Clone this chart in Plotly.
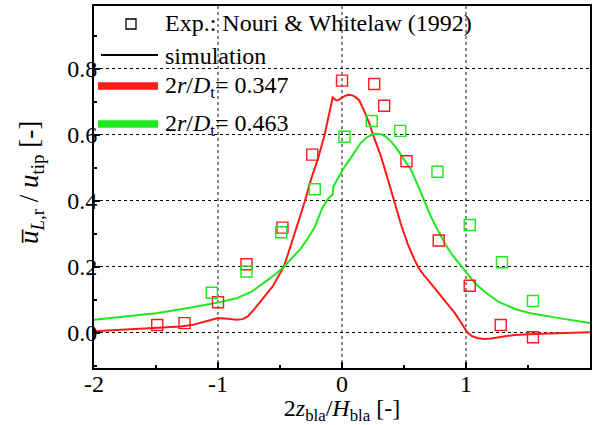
import plotly.graph_objects as go

# Experimental data (Nouri & Whitelaw 1992)
exp_red_x = [-1.49, -1.27, -1.00, -0.77, -0.48, -0.24, 0.00, 0.26, 0.34, 0.52, 0.78, 1.03, 1.28, 1.54]
exp_red_y = [0.024, 0.030, 0.093, 0.208, 0.319, 0.540, 0.764, 0.754, 0.688, 0.520, 0.280, 0.143, 0.024, -0.013]
exp_green_x = [-1.05, -0.77, -0.49, -0.22, 0.02, 0.24, 0.47, 0.77, 1.03, 1.29, 1.54]
exp_green_y = [0.122, 0.186, 0.305, 0.435, 0.594, 0.642, 0.612, 0.488, 0.327, 0.214, 0.097]

# Simulation curves
sim_red_x = [-2.0, -1.75, -1.5, -1.3, -1.2, -1.1, -1.0, -0.92, -0.85, -0.8, -0.76, -0.7, -0.65,
             -0.6, -0.56, -0.52, -0.47, -0.43, -0.385, -0.34, -0.30, -0.25, -0.196, -0.14, -0.11,
             -0.09, -0.075, -0.06, -0.045, -0.03, -0.01, 0.02, 0.05, 0.08, 0.11, 0.14, 0.18, 0.22,
             0.26, 0.315, 0.37, 0.42, 0.475, 0.53, 0.58, 0.62, 0.66, 0.7, 0.75, 0.8, 0.86, 0.91,
             0.96, 1.01, 1.05, 1.1, 1.15, 1.2, 1.28, 1.39, 1.6, 1.8, 2.0]
sim_red_y = [0.005, 0.010, 0.015, 0.020, 0.025, 0.036, 0.045, 0.043, 0.040, 0.042, 0.050, 0.075, 0.100,
             0.122, 0.140, 0.165, 0.200, 0.245, 0.297, 0.350, 0.398, 0.465, 0.524, 0.600, 0.650,
             0.690, 0.713, 0.708, 0.704, 0.705, 0.710, 0.717, 0.721, 0.720, 0.714, 0.704, 0.672, 0.635,
             0.590, 0.534, 0.465, 0.398, 0.330, 0.270, 0.225, 0.196, 0.175, 0.158, 0.135, 0.110, 0.082, 0.060,
             0.032, 0.002, -0.010, -0.016, -0.018, -0.017, -0.012, -0.006, -0.002, 0.000, 0.002]
sim_green_x = [-2.0, -1.75, -1.5, -1.25, -1.0, -0.85, -0.73, -0.6, -0.53, -0.47, -0.4, -0.33, -0.27,
               -0.22, -0.16, -0.115, -0.075, -0.07, -0.03, 0.005, 0.06, 0.1, 0.15, 0.2, 0.24, 0.27,
               0.315, 0.355, 0.395, 0.435, 0.476, 0.516, 0.556, 0.597, 0.637, 0.678, 0.718, 0.76,
               0.80, 0.84, 0.88, 0.93, 0.973, 1.02, 1.07, 1.15, 1.26, 1.4, 1.52, 1.75, 2.0]
sim_green_y = [0.040, 0.050, 0.060, 0.075, 0.092, 0.105, 0.125, 0.160, 0.180, 0.200, 0.228, 0.257, 0.290,
               0.320, 0.378, 0.405, 0.420, 0.443, 0.470, 0.494, 0.524, 0.548, 0.575, 0.592, 0.600, 0.603,
               0.602, 0.594, 0.580, 0.562, 0.539, 0.517, 0.494, 0.460, 0.423, 0.387, 0.352, 0.320,
               0.292, 0.265, 0.241, 0.218, 0.200, 0.175, 0.152, 0.125, 0.095, 0.072, 0.060, 0.045, 0.030]

x_ticks = [-2, -1, 0, 1, 2]
x_ticklabels = ["-2", "-1", "0", "1", "2"]
y_ticks = [0.0, 0.2, 0.4, 0.6, 0.8]
y_ticklabels = ["0.0", "0.2", "0.4", "0.6", "0.8"]

legend_labels = ["Exp.: Nouri &amp; Whitelaw (1992)", "simulation",
                 "2<i>r</i>/<i>D</i><sub>t</sub>= 0.347", "2<i>r</i>/<i>D</i><sub>t</sub>= 0.463"]
y_title = "<i>u\u0305</i><sub><i>L</i>,r</sub> / <i>u</i><sub>tip</sub> [-]"
x_title = "2<i>z</i><sub>bla</sub>/<i>H</i><sub>bla</sub> [-]"

RED = "#ff1a1a"
GREEN = "#1ee81e"
FONT = "'Liberation Serif', 'Times New Roman', 'DejaVu Serif', serif"

W, H = 594, 425
ML, MR, MT, MB = 94, 4, 6, 57
PW, PH = W - ML - MR, H - MT - MB


def px(xp):
    return (xp - ML) / PW


def py(yp):
    return (H - MB - yp) / PH


fig = go.Figure()

fig.add_trace(go.Scatter(x=sim_red_x, y=sim_red_y, mode="lines", line=dict(color=RED, width=2),
                         showlegend=False))
fig.add_trace(go.Scatter(x=sim_green_x, y=sim_green_y, mode="lines", line=dict(color=GREEN, width=2),
                         showlegend=False))
fig.add_trace(go.Scatter(x=exp_red_x, y=exp_red_y, mode="markers",
                         marker=dict(symbol="square-open", size=11, color=RED, line=dict(width=1.4)),
                         showlegend=False))
fig.add_trace(go.Scatter(x=exp_green_x, y=exp_green_y, mode="markers",
                         marker=dict(symbol="square-open", size=11, color=GREEN, line=dict(width=1.4)),
                         showlegend=False))

# manual legend (white boxes hiding grid, symbols, labels)
boxes = [(97, 480, 8, 38), (97, 273, 40, 71), (97, 295, 72, 101), (97, 295, 110, 141)]
for x0, x1, y0, y1 in boxes:
    fig.add_shape(type="rect", xref="paper", yref="paper", x0=px(x0), x1=px(x1), y0=py(y1), y1=py(y0),
                  fillcolor="white", line=dict(width=0), layer="between")
fig.add_shape(type="rect", xref="paper", yref="paper", x0=px(126), x1=px(136), y0=py(29), y1=py(19),
              line=dict(color="black", width=1.3), fillcolor="rgba(0,0,0,0)", layer="above")
fig.add_shape(type="line", xref="paper", yref="paper", x0=px(101), x1=px(158), y0=py(55), y1=py(55),
              line=dict(color="black", width=2), layer="above")
fig.add_shape(type="line", xref="paper", yref="paper", x0=px(98), x1=px(158), y0=py(86), y1=py(86),
              line=dict(color=RED, width=7.5), layer="above")
fig.add_shape(type="line", xref="paper", yref="paper", x0=px(98), x1=px(158), y0=py(124), y1=py(124),
              line=dict(color=GREEN, width=7.5), layer="above")
label_y = [23, 56, 87, 125]
for lab, yy in zip(legend_labels, label_y):
    fig.add_annotation(text=lab, xref="paper", yref="paper", x=px(163), y=py(yy), xanchor="left",
                       yanchor="middle", showarrow=False, font=dict(family=FONT, size=24, color="black"))

# y-axis title as rotated annotation
fig.add_annotation(text=y_title, xref="paper", yref="paper", x=px(31), y=py(183), xanchor="center",
                   yanchor="middle", textangle=-90, showarrow=False,
                   font=dict(family=FONT, size=27, color="black"))

fig.update_layout(
    width=W, height=H,
    margin=dict(l=ML, r=MR, t=MT, b=MB),
    plot_bgcolor="white", paper_bgcolor="white",
    font=dict(family=FONT, size=24, color="black"),
    showlegend=False,
)

fig.update_xaxes(
    range=[-2, 2], tickvals=x_ticks, ticktext=x_ticklabels, automargin=False,
    ticks="inside", ticklen=6, tickwidth=1.5, tickcolor="black",
    showline=True, linecolor="black", linewidth=2, mirror=True,
    showgrid=True, gridcolor="#888888", griddash="dot", gridwidth=1.5,
    zeroline=False,
    minor=dict(dtick=0.5, ticks="inside", ticklen=3, tickcolor="black", showgrid=False),
    tickfont=dict(family=FONT, size=24),
    title=dict(text=x_title, font=dict(family=FONT, size=24), standoff=5),
)
fig.update_yaxes(
    range=[-0.106, 0.99], tickvals=y_ticks, ticktext=y_ticklabels, automargin=False,
    ticks="inside", ticklen=6, tickwidth=1.5, tickcolor="black",
    showline=True, linecolor="black", linewidth=2, mirror=True,
    showgrid=True, gridcolor="black", griddash="dot", gridwidth=1,
    zeroline=False,
    minor=dict(dtick=0.1, ticks="inside", ticklen=3, tickcolor="black", showgrid=False),
    tickfont=dict(family=FONT, size=24),
)

try:
    fig.update_xaxes(ticklabelstandoff=-7)
    fig.update_yaxes(ticklabelstandoff=-10)
except ValueError:
    pass

fig.write_html("out.html", config={"displayModeBar": False},
               post_script="document.body.style.margin='0';document.body.style.padding='0';")
